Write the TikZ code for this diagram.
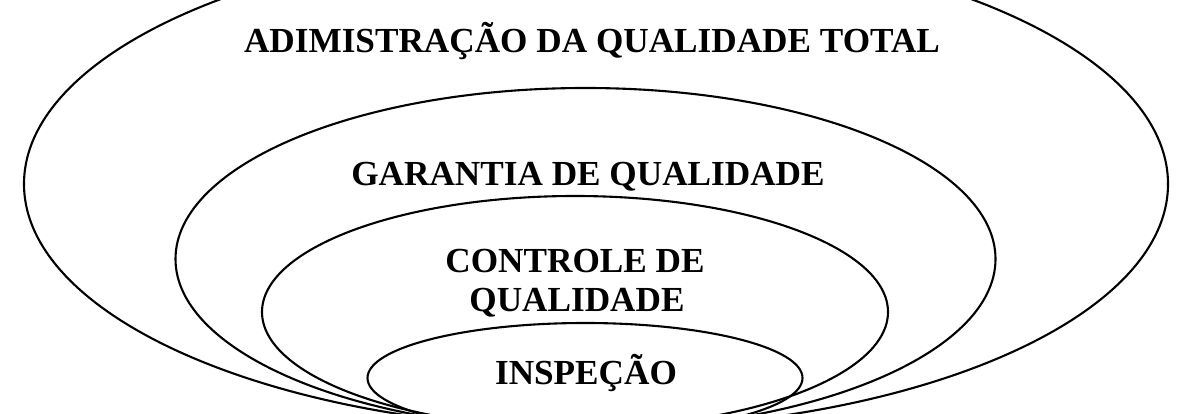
\documentclass[tikz,border=0pt]{standalone}
\usepackage{fontspec}
\setmainfont{Liberation Serif}
\begin{document}
\begin{tikzpicture}[x=1pt,y=1pt,
  ring/.style={draw=black,line width=2.1pt},
  lbl/.style={font=\fontsize{35.2}{40}\selectfont\bfseries,inner sep=0pt,anchor=base}]
\useasboundingbox (0,0) rectangle (1185,414);
\clip (0,0) rectangle (1185,414);
\fill[white] (0,0) rectangle (1185,414);
\draw[ring] (596,230) ellipse [x radius=572, y radius=245];
\draw[ring] (585.5,155) ellipse [x radius=410, y radius=171];
\draw[ring] (575,102) ellipse [x radius=313, y radius=116];
\draw[ring] (585,36) ellipse [x radius=217.5, y radius=55];
\node[lbl] (adm) at (592,361) {ADIMISTRAÇÃO DA QUALIDADE TOTAL};
\node[lbl] (gar) at (588,228) {GARANTIA DE QUALIDADE};
\node[lbl] (ctl1) at (575,141) {CONTROLE DE};
\node[lbl] (ctl2) at (577,102) {QUALIDADE};
\node[lbl] (insp) at (586,29) {INSPEÇÃO};
\end{tikzpicture}
\end{document}
